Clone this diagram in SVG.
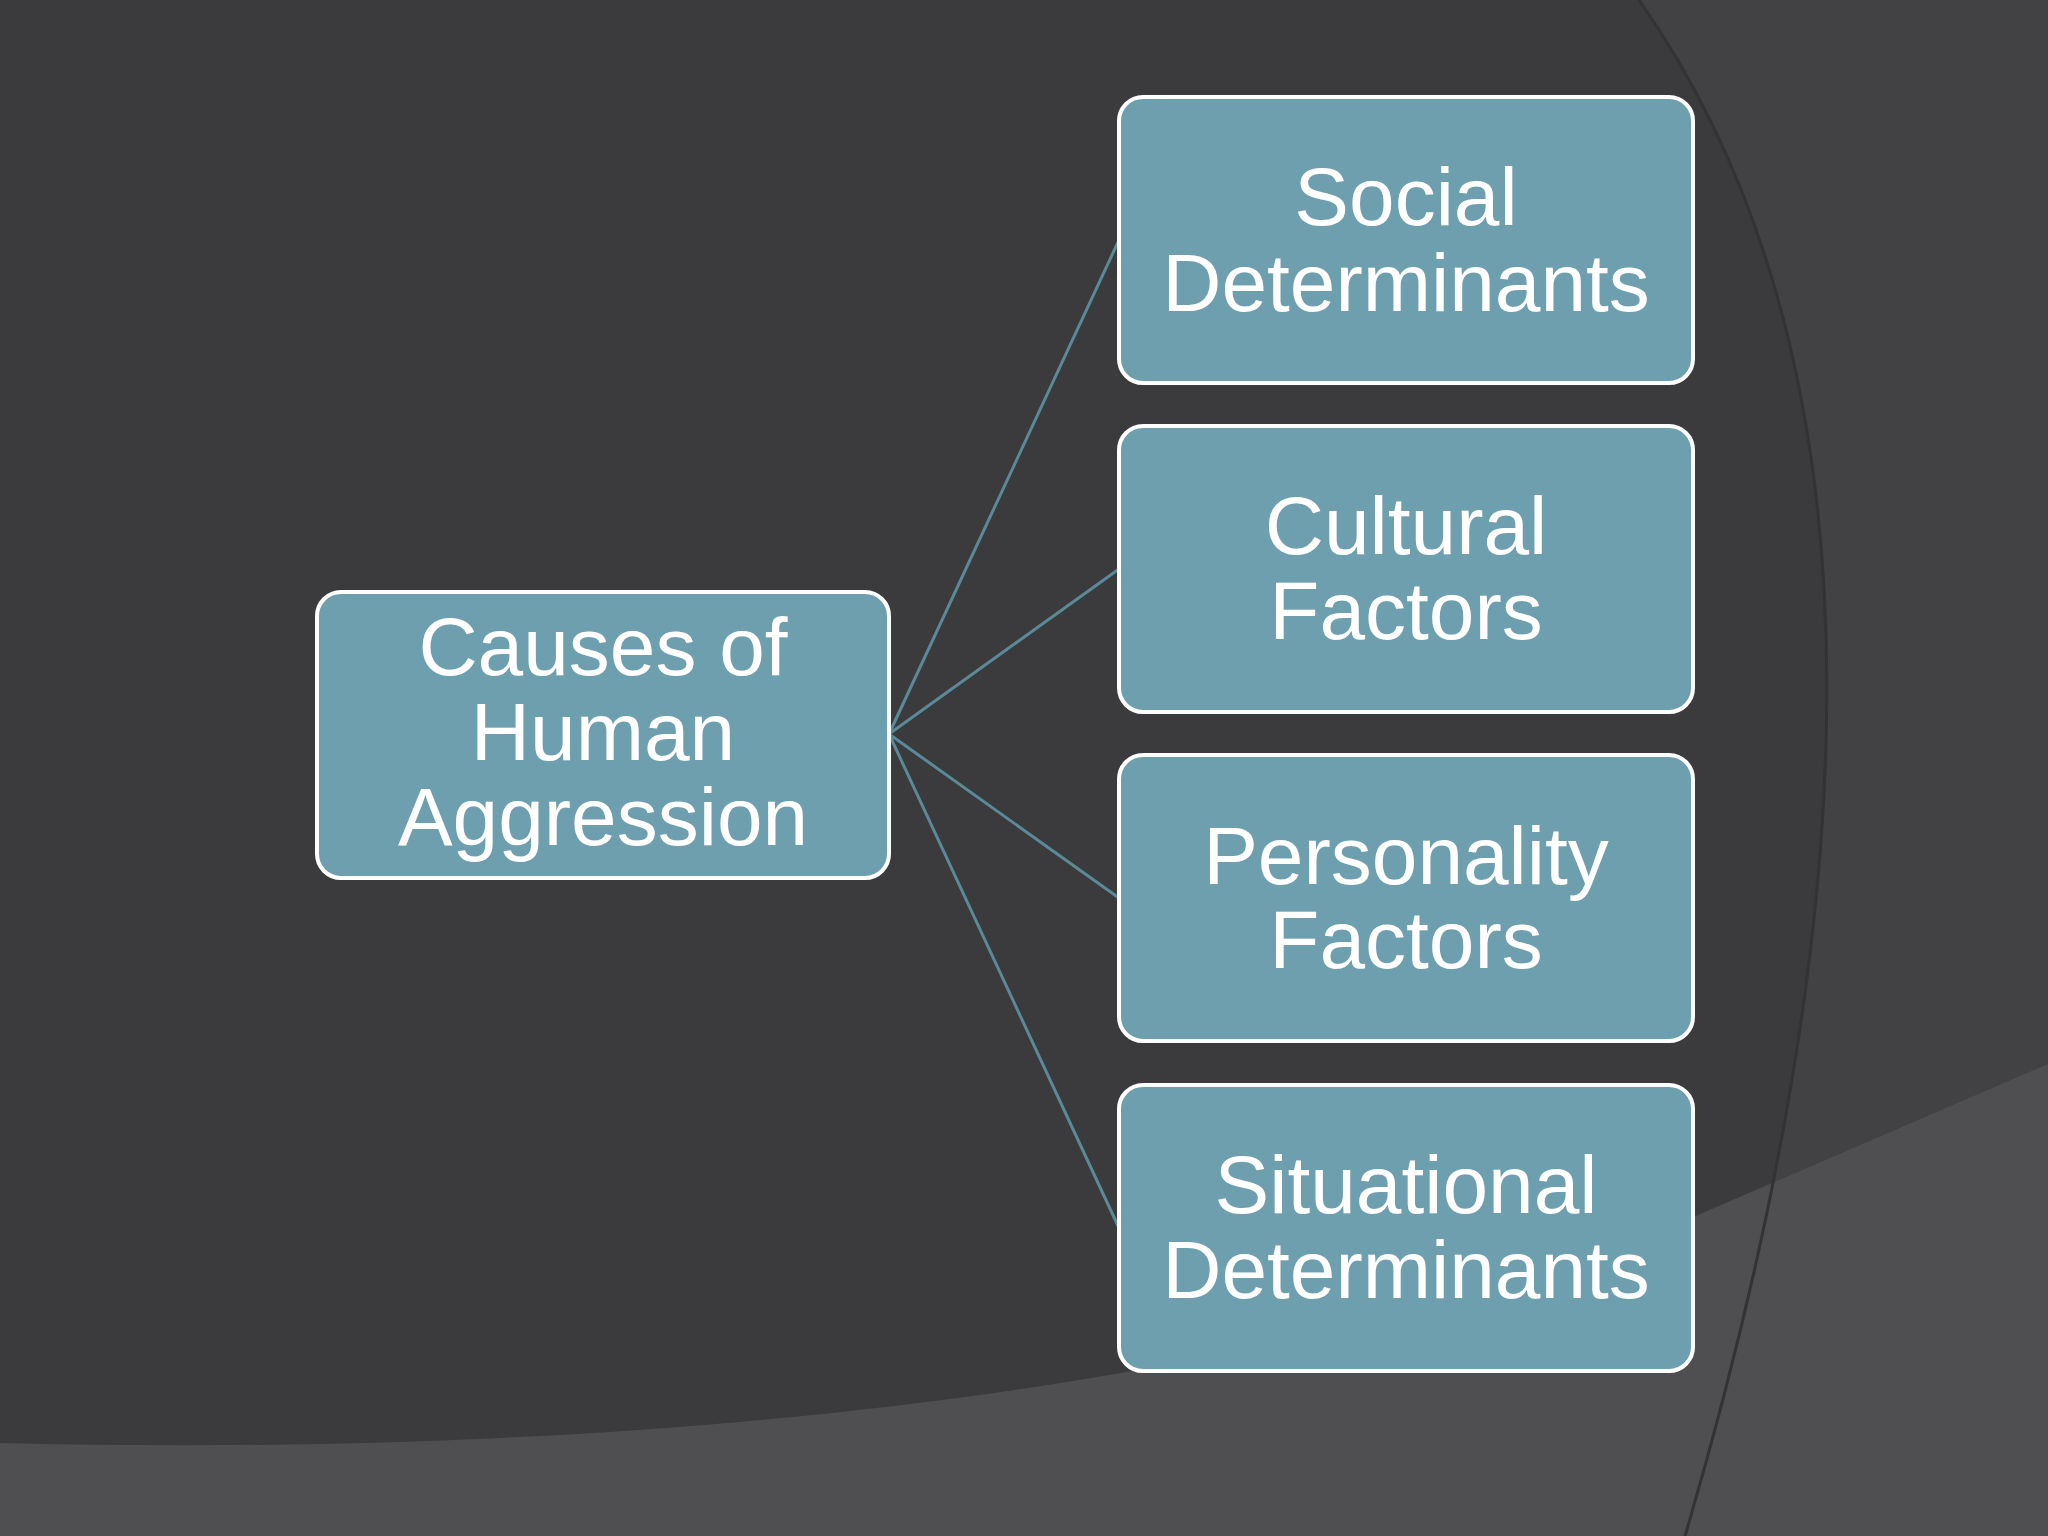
<svg xmlns="http://www.w3.org/2000/svg" width="2048" height="1536" viewBox="0 0 2048 1536">
<style>
.box{fill:#6e9fae;stroke:#ffffff;stroke-width:4}
.t{font-family:"Liberation Sans",Arial,sans-serif;font-size:82px;fill:#ffffff;text-anchor:middle}
.c{stroke:#5a8a98;stroke-width:3;fill:none}
</style>
<rect width="2048" height="1536" fill="#3b3a3c"/>
<path d="M1639,0 Q1990,500 1685,1536 L2048,1536 L2048,0 Z" fill="#424144"/>
<path d="M0,1443 C700,1460 1300,1380 1698,1215 L2048,1064 L2048,1536 L0,1536 Z" fill="#4f4e51"/>
<path d="M1639,0 Q1990,500 1685,1536" fill="none" stroke="#333234" stroke-width="3"/>
<g id="connectors">
<path class="c" d="M889,734 L1119,240 M889,734 L1119,569 M889,734 L1119,898 M889,734 L1119,1228"/>
</g>
<g id="root"><rect class="box" x="317" y="592" width="572" height="286" rx="24"/>
<text class="t" x="603" y="675">Causes of</text><text class="t" x="603" y="760">Human</text><text class="t" x="603" y="845">Aggression</text></g>
<g id="social"><rect class="box" x="1119" y="97" width="574" height="286" rx="24"/>
<text class="t" x="1406" y="225">Social</text><text class="t" x="1406" y="311">Determinants</text></g>
<g id="cultural"><rect class="box" x="1119" y="426" width="574" height="286" rx="24"/>
<text class="t" x="1406" y="554">Cultural</text><text class="t" x="1406" y="639">Factors</text></g>
<g id="personality"><rect class="box" x="1119" y="755" width="574" height="286" rx="24"/>
<text class="t" x="1406" y="884">Personality</text><text class="t" x="1406" y="968">Factors</text></g>
<g id="situational"><rect class="box" x="1119" y="1085" width="574" height="286" rx="24"/>
<text class="t" x="1406" y="1213">Situational</text><text class="t" x="1406" y="1298">Determinants</text></g>
</svg>
